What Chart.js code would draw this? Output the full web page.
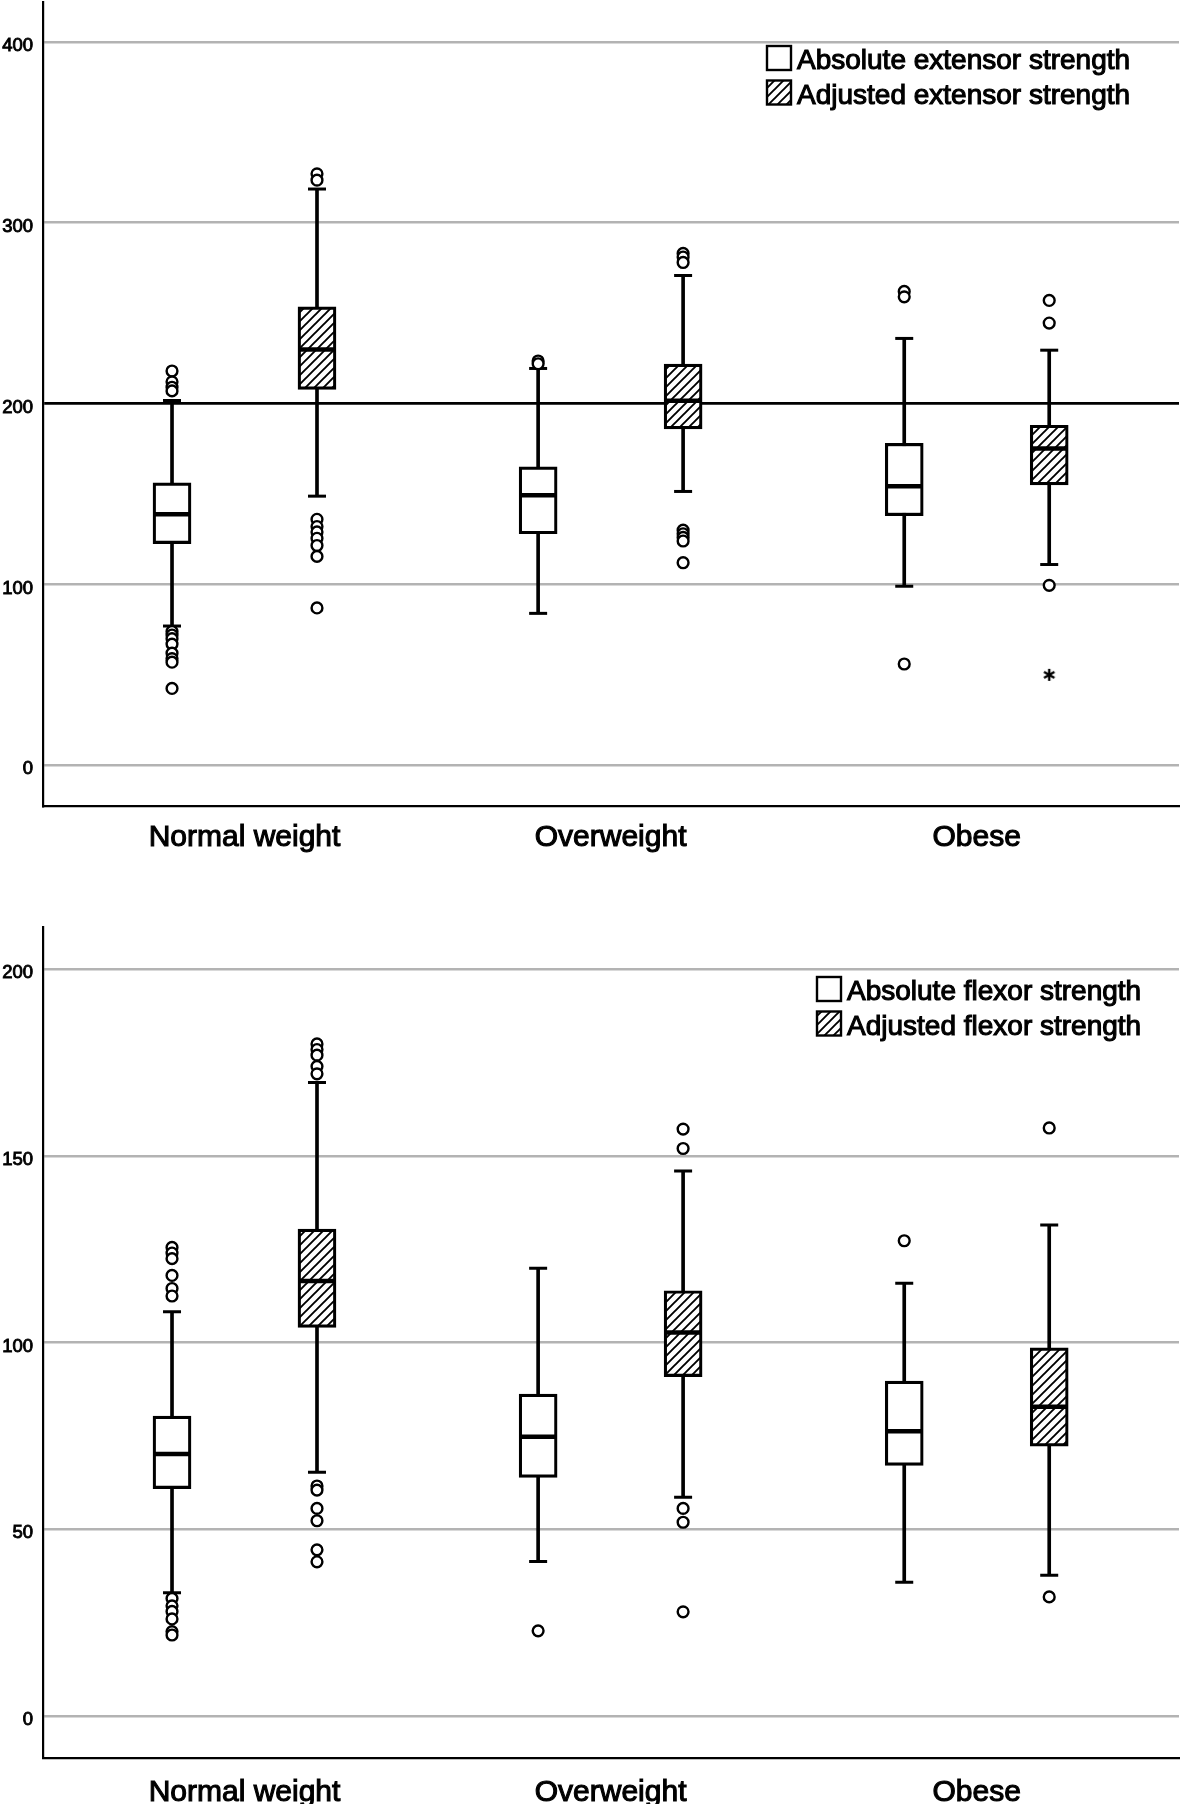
<!DOCTYPE html>
<html>
<head>
<meta charset="utf-8">
<script src="https://cdn.jsdelivr.net/npm/chart.js@4.4.1/dist/chart.umd.min.js"></script>
<style>
  html, body { margin: 0; padding: 0; background: #fff; }
  canvas { display: block; }
</style>
</head>
<body>
<canvas id="extensorChart" width="1184" height="870"></canvas>
<canvas id="flexorChart" width="1184" height="934"></canvas>
<script>
// Categories and tick labels
const groups = ['Normal weight', 'Overweight', 'Obese'];
const extTicks = [0, 100, 200, 300, 400];
const flexTicks = [0, 50, 100, 150, 200];

// Extensor strength, one row per group: [lower whisker, Q1, median, Q3, upper whisker]
const extNames = ['Absolute extensor strength', 'Adjusted extensor strength'];
const extAbsolute = [[77, 122.6, 138.8, 156.1, 201.7], [84, 128, 149.3, 165, 219.4], [99, 138, 154.3, 178, 236]];
const extAdjusted = [[148.8, 207.8, 229.9, 253.5, 318.6], [151.4, 186, 201.5, 221.8, 270.8], [111, 155, 175.2, 188, 229.5]];
const extAbsoluteOut = [[218, 212, 209, 207, 74, 72, 70, 67, 62, 59, 57, 42.5], [223.5, 222], [262, 259, 56]];
const extAdjustedOut = [[327, 323.5, 136, 132, 129, 125.5, 121.5, 115.5, 87], [283, 281, 278, 130, 128, 126, 124, 112], [257, 244.5, 99.5]];
const extAdjustedExtreme = [[], [], [50]];

// Flexor strength
const flexNames = ['Absolute flexor strength', 'Adjusted flexor strength'];
const flexAbsolute = [[33, 60.9, 70.2, 80.3, 108.3], [41.4, 63.9, 74.8, 86.2, 119.9], [35.8, 67.1, 76.3, 89.7, 115.9]];
const flexAdjusted = [[65.3, 104.1, 116.5, 130.4, 169.7], [58.6, 90.9, 102.7, 113.9, 146], [37.7, 72.3, 82.8, 98.6, 131.5]];
const flexAbsoluteOut = [[125.5, 124, 122.5, 118, 114.5, 112.5, 31.5, 29.5, 28, 26, 22.6, 21.7], [22.8], [127.3]];
const flexAdjustedOut = [[180, 178.5, 177, 174, 172, 61.6, 60.5, 55.6, 52.3, 44.5, 41.3], [157.2, 152, 55.6, 51.9, 27.9], [157.5, 31.9]];
const flexAdjustedExtreme = [[], [], []];

Chart.defaults.font.family = '"Liberation Sans", Arial, sans-serif';
Chart.defaults.color = '#000';

const GRID = '#b3b3b3';
const SHIFT = 0.198; // box offset from group centre, in axis units

// diagonal hatch used for the adjusted boxes
function makeHatch() {
    const c = document.createElement('canvas');
    c.width = 9; c.height = 9;
    const g = c.getContext('2d');
    g.fillStyle = '#fff';
    g.fillRect(0, 0, 9, 9);
    g.strokeStyle = '#000';
    g.lineWidth = 1.9;
    g.beginPath();
    g.moveTo(-1, 10); g.lineTo(10, -1);
    g.moveTo(-1, 1); g.lineTo(1, -1);
    g.moveTo(8, 10); g.lineTo(10, 8);
    g.stroke();
    return g.createPattern(c, 'repeat');
}

function makeAsterisk(size) {
    const c = document.createElement('canvas');
    c.width = size; c.height = size;
    const g = c.getContext('2d');
    g.strokeStyle = '#000';
    g.lineWidth = 2.4;
    const m = size / 2, r = size / 2 - 1;
    for (let k = 0; k < 3; k++) {
        const a = Math.PI / 2 + k * Math.PI / 3;
        g.beginPath();
        g.moveTo(m + r * Math.cos(a), m + r * Math.sin(a));
        g.lineTo(m - r * Math.cos(a), m - r * Math.sin(a));
        g.stroke();
    }
    return c;
}

const hatch = makeHatch();
const asterisk = makeAsterisk(14);

function points(lists, offset) {
    let pts = [];
    lists.forEach((list, i) => list.forEach(v => pts.push({x: i + offset, y: v})));
    return pts;
}

function boxSeries(stats, outliers, extremes, fill, offset) {
    const caps = [];
    stats.forEach((s, i) => {
        caps.push({x: i + offset, y: s[0]});
        caps.push({x: i + offset, y: s[4]});
    });
    return [
        {
            type: 'bar', data: stats.map((s, i) => ({x: i + offset, y: [s[0], s[4]]})),
            backgroundColor: '#000', barThickness: 3, grouped: false, order: 6
        },
        {
            type: 'bar', data: stats.map((s, i) => ({x: i + offset, y: [s[1], s[3]]})),
            backgroundColor: fill, borderColor: '#000', borderWidth: 3.2, borderSkipped: false,
            barThickness: 38, grouped: false, order: 5
        },
        {
            type: 'scatter', data: caps, pointStyle: 'line', pointRadius: 9,
            pointBorderWidth: 3, pointBorderColor: '#000', order: 4
        },
        {
            type: 'scatter', data: stats.map((s, i) => ({x: i + offset, y: s[2]})), pointStyle: 'line',
            pointRadius: 18.5, pointBorderWidth: 4.5, pointBorderColor: '#000', order: 3
        },
        {
            type: 'scatter', data: points(outliers, offset), pointStyle: 'circle', pointRadius: 5.4,
            pointBorderWidth: 2.4, pointBorderColor: '#000', pointBackgroundColor: '#fff', order: 2
        },
        {
            type: 'scatter', data: points(extremes, offset), pointStyle: asterisk, order: 1
        }
    ];
}

function legendPlugin(names, fills, x, y) {
    return {
        id: 'boxLegend',
        afterDraw(chart) {
            const ctx = chart.ctx;
            ctx.save();
            ctx.font = '28px "Liberation Sans", Arial, sans-serif';
            ctx.textBaseline = 'alphabetic';
            names.forEach((name, i) => {
                const top = y + i * 34.5;
                ctx.fillStyle = fills[i];
                ctx.fillRect(x, top, 24, 24);
                ctx.strokeStyle = '#000';
                ctx.lineWidth = 2.4;
                ctx.strokeRect(x, top, 24, 24);
                ctx.fillStyle = '#000';
                ctx.lineWidth = 1.1;
                ctx.fillText(name, x + 30, top + 23);
                ctx.strokeText(name, x + 30, top + 23);
            });
            ctx.restore();
        }
    };
}

// no automatic label padding, the plot area is set by hand
function noPadding(s) {
    s.paddingTop = 0;
    s.paddingBottom = 0;
    s.paddingLeft = 0;
    s.paddingRight = 0;
}

function boxChart(el, cfg) {
    return new Chart(el, {
        type: 'bar',
        data: {
            datasets: boxSeries(cfg.absolute, cfg.absoluteOut, [[], [], []], '#fff', -SHIFT)
                .concat(boxSeries(cfg.adjusted, cfg.adjustedOut, cfg.extreme, hatch, SHIFT))
        },
        plugins: [legendPlugin(cfg.names, ['#fff', hatch], cfg.legendX, cfg.legendY)],
        options: {
            responsive: false,
            animation: false,
            devicePixelRatio: 1,
            layout: {autoPadding: false, padding: {top: cfg.padTop, right: 5, left: 0, bottom: 0}},
            plugins: {legend: {display: false}, tooltip: {enabled: false}},
            scales: {
                x: {
                    type: 'linear',
                    min: -0.5504,
                    max: 2.5525,
                    offset: false,
                    afterBuildTicks: s => { s.ticks = groups.map((g, i) => ({value: i})); },
                    afterFit: s => { s.height = cfg.xHeight; noPadding(s); },
                    grid: {display: false, offset: false},
                    border: {display: true, color: '#000', width: 2.3},
                    ticks: {
                        callback: v => groups[v],
                        font: {size: 30},
                        color: '#000',
                        textStrokeColor: '#000',
                        textStrokeWidth: 1.1,
                        padding: cfg.xPad,
                        maxRotation: 0,
                        autoSkip: false
                    }
                },
                y: {
                    type: 'linear',
                    min: cfg.min,
                    max: cfg.max,
                    afterBuildTicks: s => { s.ticks = cfg.ticks.map(v => ({value: v})); },
                    afterFit: s => { s.width = 43; noPadding(s); },
                    grid: {
                        drawTicks: false,
                        color: c => (cfg.refLine !== null && c.tick && c.tick.value === cfg.refLine) ? '#000' : GRID,
                        lineWidth: c => (cfg.refLine !== null && c.tick && c.tick.value === cfg.refLine) ? 2.8 : 2.5
                    },
                    border: {display: true, color: '#000', width: 2.2},
                    ticks: {
                        font: {size: 18.5},
                        color: '#000',
                        textStrokeColor: '#000',
                        textStrokeWidth: 0.9,
                        padding: 10,
                        labelOffset: 4
                    }
                }
            }
        }
    });
}

const extensorChart = boxChart(document.getElementById('extensorChart'), {
    names: extNames, absolute: extAbsolute, adjusted: extAdjusted,
    absoluteOut: extAbsoluteOut, adjustedOut: extAdjustedOut, extreme: extAdjustedExtreme,
    ticks: extTicks, min: -22.5, max: 422, refLine: 200,
    padTop: 2, xHeight: 64, xPad: 6, legendX: 767, legendY: 46
});

const flexorChart = boxChart(document.getElementById('flexorChart'), {
    names: flexNames, absolute: flexAbsolute, adjusted: flexAdjusted,
    absoluteOut: flexAbsoluteOut, adjustedOut: flexAdjustedOut, extreme: flexAdjustedExtreme,
    ticks: flexTicks, min: -11.17, max: 211.25, refLine: null,
    padTop: 57.3, xHeight: 46.3, xPad: 9.5, legendX: 817, legendY: 107
});
</script>
</body>
</html>
